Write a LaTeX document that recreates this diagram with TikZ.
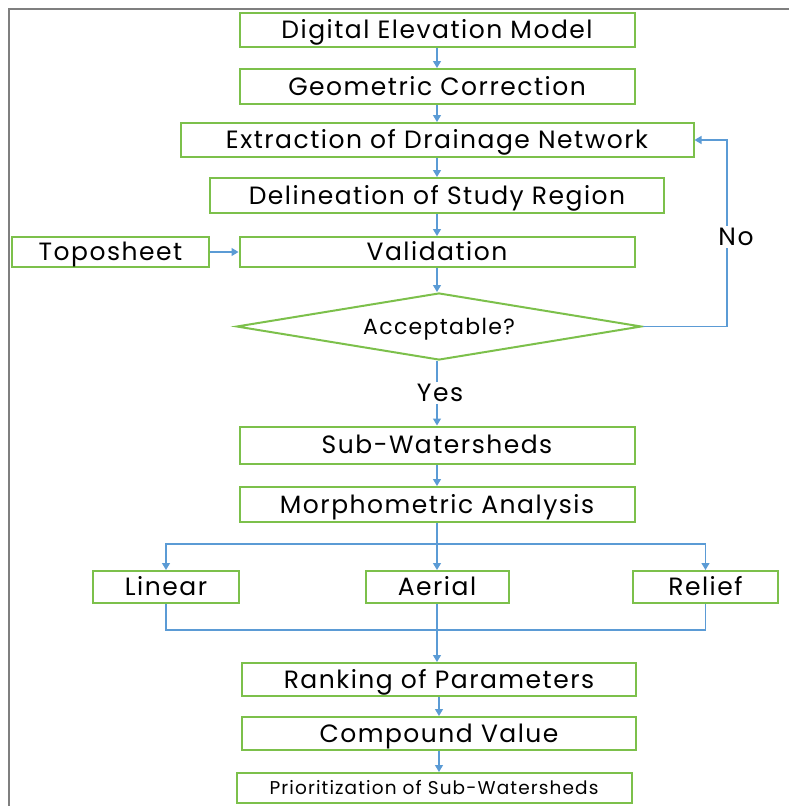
\documentclass[tikz,border=0pt]{standalone}
\usepackage{fontspec}
\setmainfont{Poppins}[LetterSpace=6]
\usetikzlibrary{arrows.meta,shapes.geometric}
\definecolor{boxgreen}{HTML}{7CC04B}
\definecolor{flowblue}{HTML}{5B9BD5}
\definecolor{framegray}{HTML}{7F7F7F}

\begin{document}
\begin{tikzpicture}[x=1pt, y=-1pt, >={Triangle[width=8pt,length=7pt]},
  box/.style={draw=boxgreen, line width=2pt, inner sep=0pt, text height=17.5pt, text depth=0pt,
    font=\fontsize{25}{29}\selectfont},
  flow/.style={draw=flowblue, line width=1.2pt},
  lbl/.style={fill=white, inner sep=2pt, font=\fontsize{25}{29}\selectfont}]
  \useasboundingbox (0,0) rectangle (789,806);
  \draw[framegray, line width=2pt] (789,9) -- (9,9) -- (9,806);

  \node[box, minimum width=395, minimum height=34] (dem) at (437,30) {Digital Elevation Model};
  \node[box, minimum width=395, minimum height=35] (geo) at (437,86.5) {Geometric Correction};
  \node[box, minimum width=513, minimum height=34] (ext) at (437,140) {Extraction of Drainage Network};
  \node[box, minimum width=454, minimum height=35] (del) at (437,195.5) {Delineation of Study Region};
  \node[box, minimum width=197, minimum height=30] (topo) at (110.5,252) {Toposheet};
  \node[box, minimum width=395, minimum height=30] (val) at (437,252) {Validation};
  \node[box, diamond, aspect=6, minimum width=405, minimum height=67, text height=15.5pt,
        font=\fontsize{22}{26}\selectfont] (acc) at (439,326.5) {Acceptable?};
  \node[box, minimum width=395, minimum height=37] (sub) at (437,445) {Sub-Watersheds};
  \node[box, minimum width=395, minimum height=35] (morph) at (437,504.5) {Morphometric Analysis};
  \node[box, minimum width=146, minimum height=32] (lin) at (166,587) {Linear};
  \node[box, minimum width=143, minimum height=32] (aer) at (437,587) {Aerial};
  \node[box, minimum width=145, minimum height=32] (rel) at (705.5,587) {Relief};
  \node[box, minimum width=394, minimum height=33] (rank) at (439,679.5) {Ranking of Parameters};
  \node[box, minimum width=394, minimum height=33] (comp) at (439,733.5) {Compound Value};
  \node[box, minimum width=395, minimum height=30, text height=13pt,
        font=\fontsize{18.5}{22}\selectfont] (prio) at (434,788) {Prioritization of Sub-Watersheds};

  \coordinate (noturn) at (727,326.5);
  \coordinate (split) at (437,544);
  \coordinate (join) at (437,630);

  \draw[flow,->] (dem) -- (geo);
  \draw[flow,->] (geo) -- (ext);
  \draw[flow,->] (ext) -- (del);
  \draw[flow,->] (del) -- (val);
  \draw[flow,->] (topo) -- (val);
  \draw[flow,->] (val.south) -- (val.south |- acc.north);
  \draw[flow,->] (acc.east) -- (noturn) |- (ext.east);
  \node[lbl] (no) at (736,237) {No};
  \draw[flow,->] (acc.south -| sub.north) -- (sub.north);
  \node[lbl] (yes) at (440,393) {Yes};
  \draw[flow,->] (sub) -- (morph);
  \draw[flow,->] (morph) -- (aer);
  \draw[flow,->] (split) -| (lin.north);
  \draw[flow,->] (split) -| (rel.north);
  \draw[flow] (lin.south) |- (join) -| (rel.south);
  \draw[flow,->] (aer.south) -- (aer.south |- rank.north);
  \draw[flow,->] (rank) -- (comp);
  \draw[flow,->] (comp.south) -- (comp.south |- prio.north);
\end{tikzpicture}
\end{document}
